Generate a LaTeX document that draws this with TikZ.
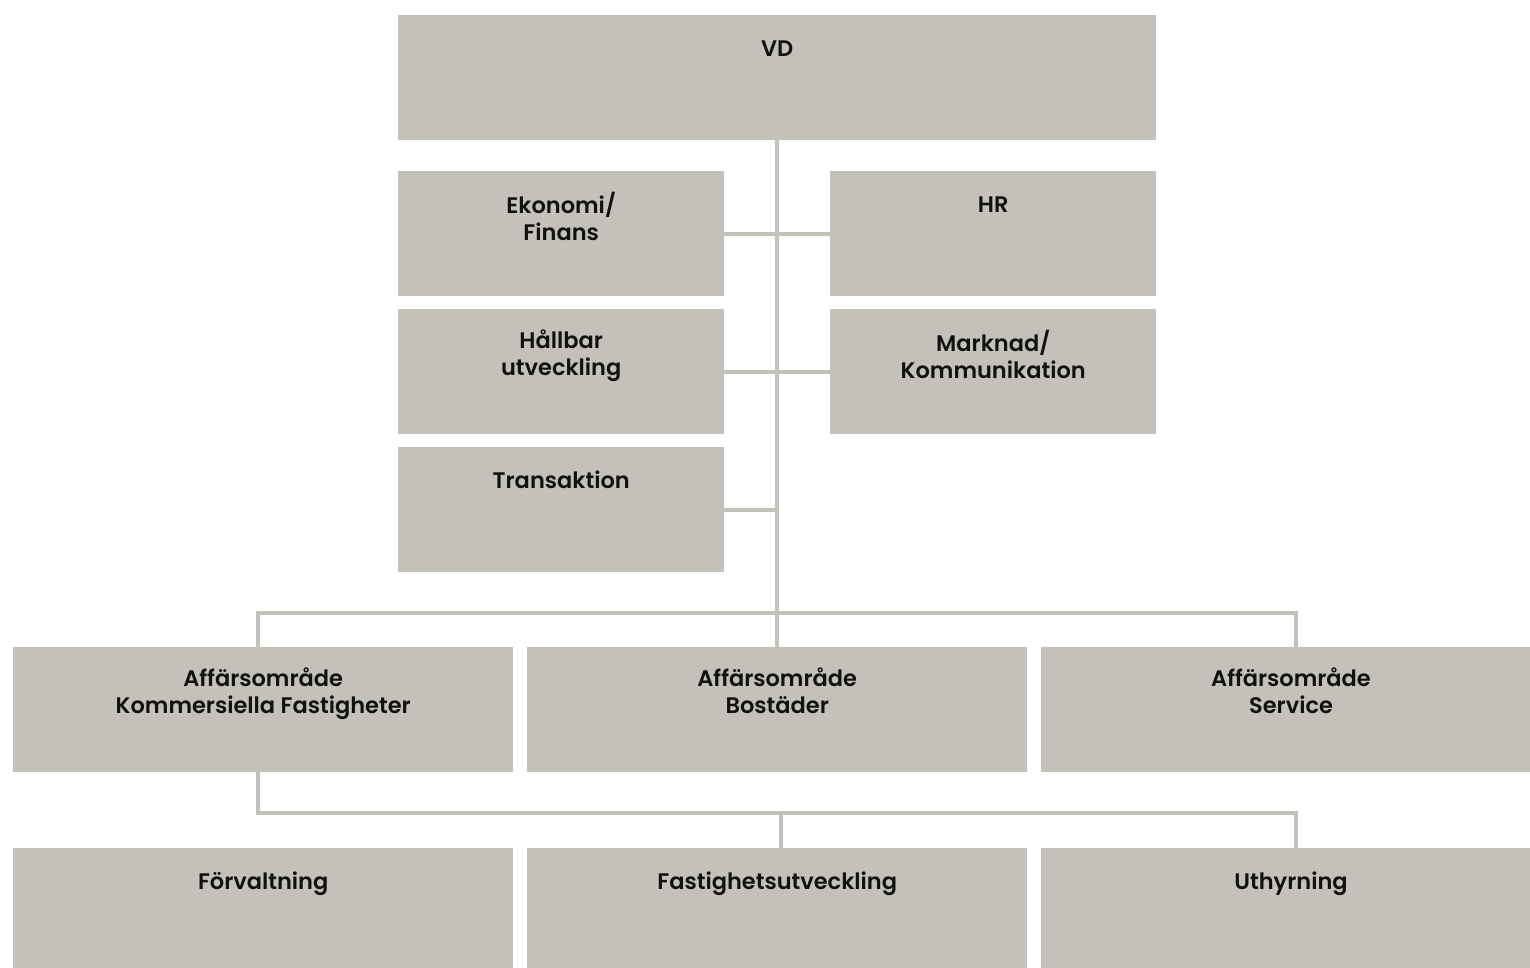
\documentclass[tikz,border=0pt]{standalone}
\usepackage{fontspec}
\setmainfont{Poppins}[UprightFont=* SemiBold,BoldFont=* SemiBold]
\usetikzlibrary{backgrounds}
\definecolor{boxgray}{HTML}{C4C1BB}
\definecolor{txt}{HTML}{111111}
\begin{document}
\begin{tikzpicture}[x=1pt,y=-1pt,
  orgbox/.style={fill=boxgray,draw=none,anchor=north west,inner sep=0pt,minimum height=125pt},
  lbl/.style={anchor=north,inner sep=0pt,align=center,font=\fontsize{22.5}{27}\selectfont,text=txt,
    execute at begin node={\rule{0pt}{20pt}}},
  conn/.style={draw=boxgray,line width=4pt}]
\useasboundingbox (0,0) rectangle (1530,967);
\coordinate (j1) at (258,613);
\coordinate (j2) at (1296,613);
\coordinate (k1) at (258,813);
\coordinate (k2) at (1296,813);
\coordinate (k3) at (781,813);
% boxes
\node[orgbox,minimum width=758pt] (vd) at (398,15) {};
\node[orgbox,minimum width=326pt] (eko) at (398,171) {};
\node[orgbox,minimum width=326pt] (hr) at (830,171) {};
\node[orgbox,minimum width=326pt] (hal) at (398,309) {};
\node[orgbox,minimum width=326pt] (mar) at (830,309) {};
\node[orgbox,minimum width=326pt] (tra) at (398,447) {};
\node[orgbox,minimum width=500pt] (a1) at (13,647) {};
\node[orgbox,minimum width=500pt] (a2) at (527,647) {};
\node[orgbox,minimum width=500pt] (a3) at (1041,647) {};
\node[orgbox,minimum width=500pt] (f1) at (13,848) {};
\node[orgbox,minimum width=500pt] (f2) at (527,848) {};
\node[orgbox,minimum width=500pt] (f3) at (1041,848) {};
% connectors behind the boxes
\begin{scope}[on background layer]
\draw[conn] (vd.south) -- (a2.north -| vd.south);
\draw[conn] (eko.east) -- (hr.west);
\draw[conn] (hal.east) -- (mar.west);
\draw[conn] (tra.east) -- (tra.east -| vd.south);
\draw[conn] (j1 |- a1.north) -- (j1) -- (j2) -- (j2 |- a3.north);
\draw[conn] (k1 |- a1.south) -- (k1) -- (k2) -- (k2 |- f3.north);
\draw[conn] (k3) -- (k3 |- f2.north);
\end{scope}
% labels
\node[lbl] (tvd) at ([yshift=-21pt]vd.north) {VD};
\node[lbl] (teko) at ([yshift=-21pt]eko.north) {Ekonomi/\\Finans};
\node[lbl] (thr) at ([yshift=-21pt]hr.north) {HR};
\node[lbl] (thal) at ([yshift=-21pt]hal.north) {Hållbar\\utveckling};
\node[lbl] (tmar) at ([yshift=-21pt]mar.north) {Marknad/\\Kommunikation};
\node[lbl] (ttra) at ([yshift=-21pt]tra.north) {Transaktion};
\node[lbl] (ta1) at ([yshift=-21pt]a1.north) {Affärsområde\\Kommersiella Fastigheter};
\node[lbl] (ta2) at ([yshift=-21pt]a2.north) {Affärsområde\\Bostäder};
\node[lbl] (ta3) at ([yshift=-21pt]a3.north -| 1291,0) {Affärsområde\\Service};
\node[lbl] (tf1) at ([yshift=-21pt]f1.north) {Förvaltning};
\node[lbl] (tf2) at ([yshift=-21pt]f2.north) {Fastighetsutveckling};
\node[lbl] (tf3) at ([yshift=-21pt]f3.north -| 1291,0) {Uthyrning};
\end{tikzpicture}
\end{document}
